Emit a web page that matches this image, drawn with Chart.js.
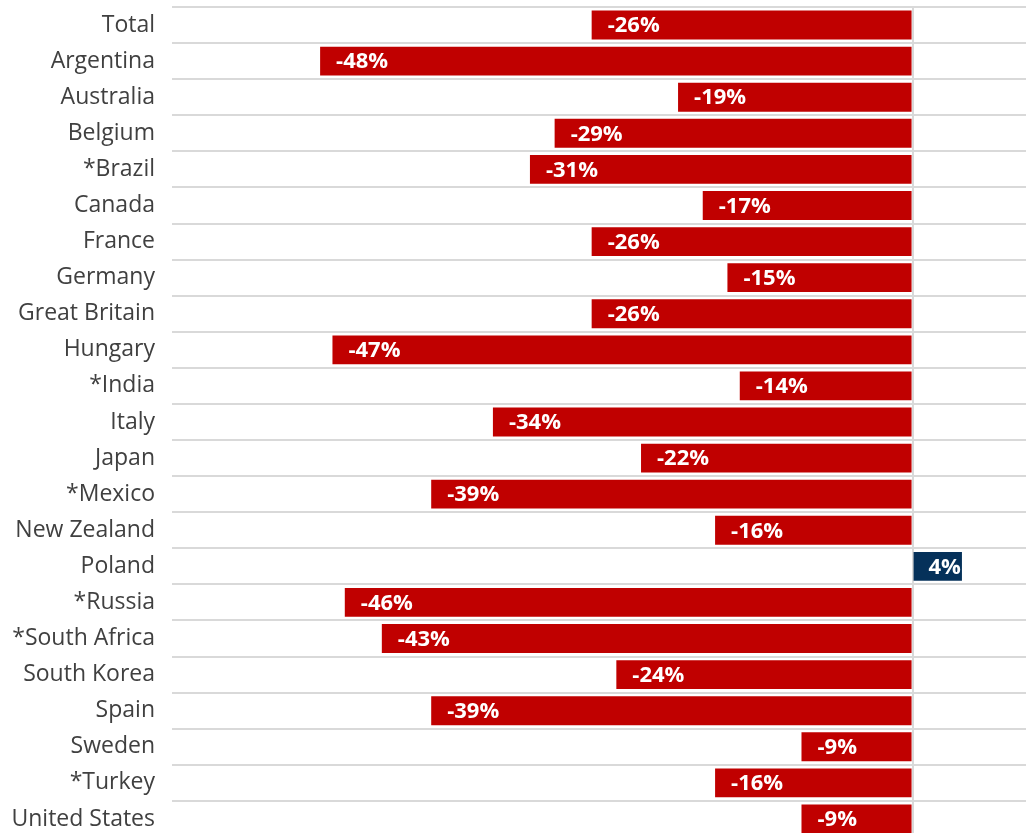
<!DOCTYPE html>
<html>
<head>
<meta charset="utf-8">
<script src="https://cdn.jsdelivr.net/npm/chart.js@4.4.1/dist/chart.umd.min.js"></script>
<style>
  html, body { margin: 0; padding: 0; background: #fff; overflow: hidden; }
  #wrap { position: relative; width: 1036px; height: 840px; }
</style>
</head>
<body>
<div id="wrap"><canvas id="chartPaises"></canvas></div>
<script>
// datos
const paises = ['Total', 'Argentina', 'Australia', 'Belgium', '*Brazil', 'Canada', 'France', 'Germany',
  'Great Britain', 'Hungary', '*India', 'Italy', 'Japan', '*Mexico', 'New Zealand', 'Poland',
  '*Russia', '*South Africa', 'South Korea', 'Spain', 'Sweden', '*Turkey', 'United States'];
const variacion = [-26, -48, -19, -29, -31, -17, -26, -15, -26, -47, -14, -34, -22, -39, -16, 4,
  -46, -43, -24, -39, -9, -16, -9];
const ejeMin = -60;
const ejeMax = 10;

const ROJO = '#c00000';
const AZUL = '#05315a';

// etiquetas blancas dentro de la barra, en el extremo
const etiquetasBarras = {
  id: 'etiquetasBarras',
  afterDatasetsDraw(chart) {
    const ctx = chart.ctx;
    const meta = chart.getDatasetMeta(0);
    ctx.save();
    ctx.font = 'bold 22px "Open Sans"';
    ctx.fillStyle = '#ffffff';
    ctx.textBaseline = 'middle';
    meta.data.forEach((bar, i) => {
      const v = variacion[i];
      const txt = v + '%';
      if (v < 0) {
        ctx.textAlign = 'left';
        ctx.fillText(txt, bar.x + 16, bar.y + 1);
      } else {
        ctx.textAlign = 'right';
        ctx.fillText(txt, bar.x - 1, bar.y + 1);
      }
    });
    ctx.restore();
  }
};

new Chart(document.getElementById('chartPaises'), {
  type: 'bar',
  data: {
    labels: paises,
    datasets: [{
      data: variacion,
      backgroundColor: variacion.map(v => v < 0 ? ROJO : AZUL),
      categoryPercentage: 1,
      barPercentage: 0.8
    }]
  },
  options: {
    indexAxis: 'y',
    responsive: true,
    maintainAspectRatio: false,
    animation: false,
    layout: { padding: { top: 7, right: 0, bottom: 3, left: 0 } },
    plugins: {
      legend: { display: false },
      tooltip: { enabled: false }
    },
    scales: {
      x: {
        min: ejeMin,
        max: ejeMax,
        ticks: { display: false, stepSize: 10 },
        border: { display: false },
        grid: {
          drawTicks: false,
          lineWidth: 2,
          color: c => (c.tick && c.tick.value === 0) ? '#d9d9d9' : 'rgba(0,0,0,0)'
        },
        afterFit(scale) {
          scale.height = 0;
          scale.paddingLeft = 0;
          scale.paddingRight = 0;
        }
      },
      y: {
        border: { display: false },
        grid: { color: '#d9d9d9', lineWidth: 2, drawTicks: false, offset: true },
        ticks: {
          padding: 17,
          color: '#404040',
          font: { family: '"Open Sans"', size: 23 }
        },
        afterFit(scale) {
          scale.width = 172;
          scale.paddingTop = 0;
          scale.paddingBottom = 0;
        }
      }
    }
  },
  plugins: [etiquetasBarras]
});
</script>
</body>
</html>
